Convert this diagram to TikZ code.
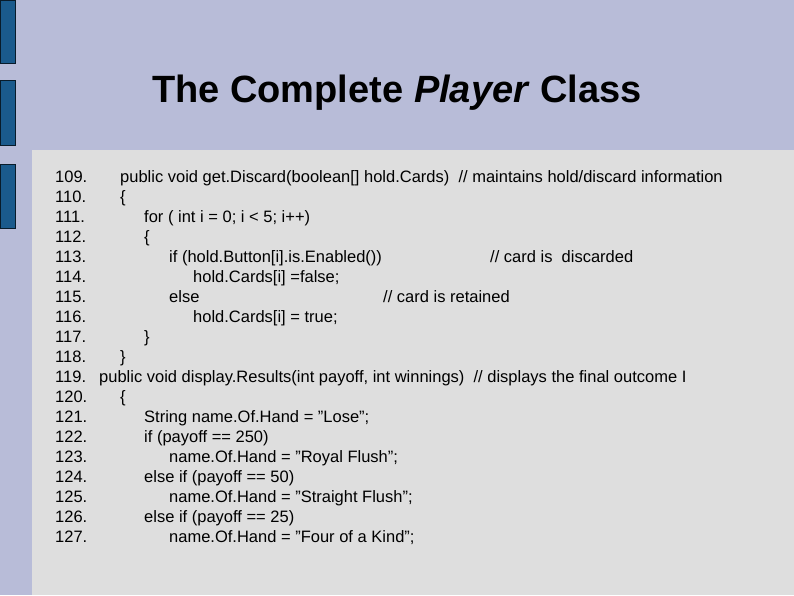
\documentclass[tikz,border=0pt]{standalone}
\usepackage{fontspec}
\setmainfont{Liberation Sans}
\definecolor{bgc}{HTML}{B8BCD8}
\definecolor{barc}{HTML}{1A5A8C}
\definecolor{panel}{HTML}{DEDEDE}
\begin{document}
\begin{tikzpicture}[x=1pt,y=-1pt,
  code/.style={anchor=base west,inner sep=0pt,font=\fontsize{16.5}{18}\selectfont}]
\useasboundingbox (0,0) rectangle (794,595);
\fill[bgc] (0,0) rectangle (794,595);
\foreach \a/\b in {0/63,80/145,164/228}
  \draw[fill=barc,draw=black!70!barc] (0,\a) rectangle (15,\b);
\fill[panel] (32,150) rectangle (794,595);
\node[inner sep=0pt,font=\fontsize{38}{40}\selectfont\bfseries] (title) at (397,93) {The Complete \textit{Player} Class};
\foreach [count=\i from 0] \n in {109,110,111,112,113,114,115,116,117,118}
  \node[code] (n\n) at (55,182+20.05*\i) {\n.};
\node[code] (n119) at (55,382.5) {119.};
\foreach [count=\i from 11] \n in {120,121,122,123,124,125,126,127}
  \node[code] (n\n) at (55,182+20.05*\i) {\n.};
\node[code] (c109) at (120,182) {public void get.Discard(boolean[] hold.Cards)\ \ // maintains hold/discard information};
\node[code] (c110) at (120,202) {\{};
\node[code] (c111) at (144,222.1) {for ( int i = 0; i < 5; i++)};
\node[code] (c112) at (144,242.2) {\{};
\node[code] (c113) at (169,262.2) {if (hold.Button[i].is.Enabled())};
\node[code] (k113) at (490,262.2) {// card is\ \ discarded};
\node[code] (c114) at (193,282.3) {hold.Cards[i] =false;};
\node[code] (c115) at (169,302.3) {else};
\node[code] (k115) at (383,302.3) {// card is retained};
\node[code] (c116) at (193,322.4) {hold.Cards[i] = true;};
\node[code] (c117) at (144,342.4) {\}};
\node[code] (c118) at (120,362.5) {\}};
\node[code] (c119) at (99,382.5) {public void display.Results(int payoff, int winnings)\ \ // displays the final outcome I};
\node[code] (c120) at (120,402.6) {\{};
\node[code] (c121) at (144,422.6) {String name.Of.Hand = "Lose";};
\node[code] (c122) at (144,442.7) {if (payoff == 250)};
\node[code] (c123) at (169,462.7) {name.Of.Hand = "Royal Flush";};
\node[code] (c124) at (144,482.8) {else if (payoff == 50)};
\node[code] (c125) at (169,502.8) {name.Of.Hand = "Straight Flush";};
\node[code] (c126) at (144,522.9) {else if (payoff == 25)};
\node[code] (c127) at (169,542.9) {name.Of.Hand = "Four of a Kind";};
\end{tikzpicture}
\end{document}
